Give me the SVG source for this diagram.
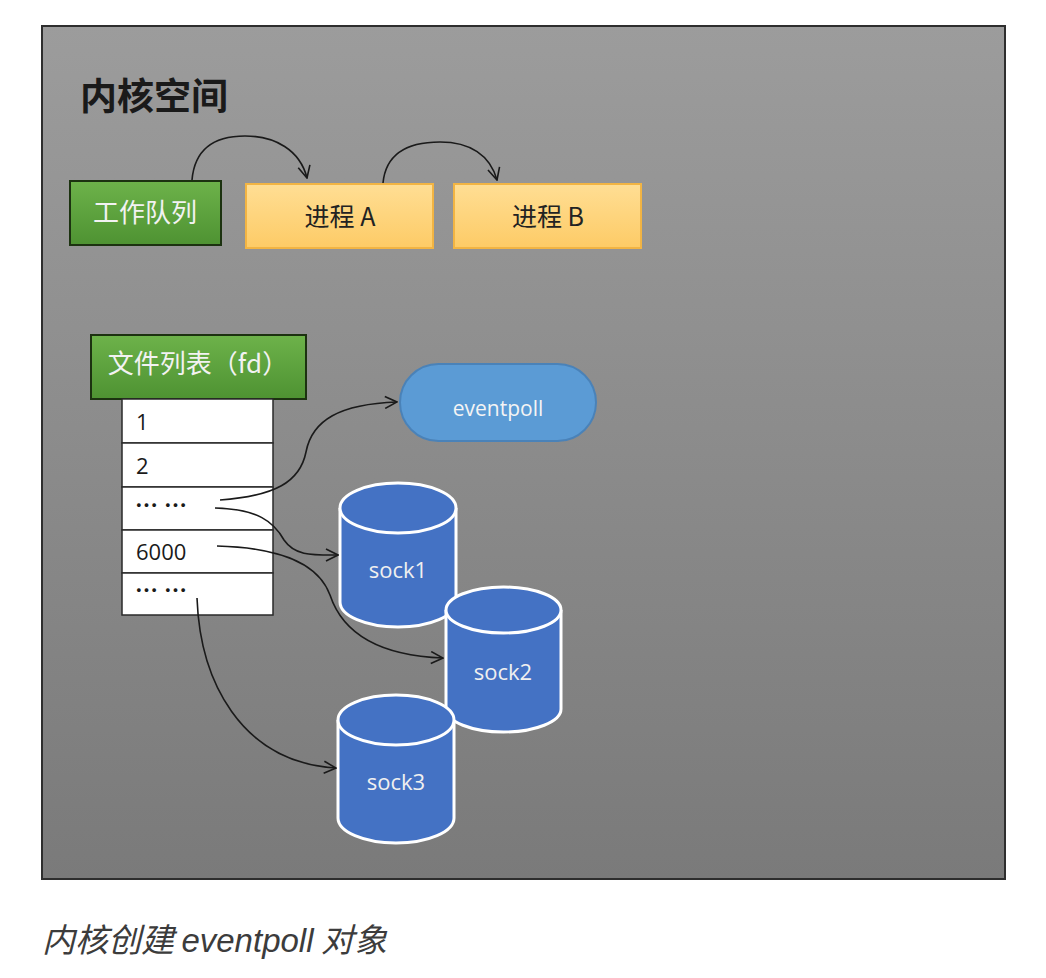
<svg xmlns="http://www.w3.org/2000/svg" width="1046" height="978" viewBox="0 0 1046 978">
<defs>
<linearGradient id="bg" x1="0" y1="0" x2="0" y2="1">
<stop offset="0" stop-color="#9c9c9c"/>
<stop offset="1" stop-color="#7a7a7a"/>
</linearGradient>
<linearGradient id="green" x1="0" y1="0" x2="0" y2="1">
<stop offset="0" stop-color="#6db24a"/>
<stop offset="1" stop-color="#4e9232"/>
</linearGradient>
<linearGradient id="yellow" x1="0" y1="0" x2="0" y2="1">
<stop offset="0" stop-color="#ffde94"/>
<stop offset="1" stop-color="#fdcb66"/>
</linearGradient>
<marker id="arr" viewBox="0 0 14 14" refX="13" refY="7" markerWidth="14" markerHeight="14" markerUnits="userSpaceOnUse" orient="auto">
<path d="M1,1 L13,7 L1,13" fill="none" stroke="#1a1a1a" stroke-width="1.6"/>
</marker>
<style>
.cjk{font-family:"Noto Sans CJK SC","Liberation Sans",sans-serif;}
.lat{font-family:"Open Sans","Liberation Sans","Noto Sans CJK SC",sans-serif;}
.gbox{fill:url(#green);stroke:#1c3210;stroke-width:2;}
.ybox{fill:url(#yellow);stroke:#f2b443;stroke-width:2;}
.gtxt{fill:#f2f2f2;font-size:26px;}
.ytxt{fill:#222;font-size:25px;}
.cell{fill:#fff;stroke:#2a2a2a;stroke-width:1.5;}
.ctxt{fill:#1a1a1a;font-size:22px;}
.dots{fill:#1a1a1a;font-size:23px;font-weight:bold;letter-spacing:6px;}
.cyl{fill:#4472c4;stroke:#fff;stroke-width:3;}
.stxt{fill:#f0f0f0;font-size:22px;text-anchor:middle;}
.conn{fill:none;stroke:#1a1a1a;stroke-width:1.6;marker-end:url(#arr);}
</style>
</defs>
<rect x="0" y="0" width="1046" height="978" fill="#fff"/>
<g id="kernel">
<rect x="42" y="26" width="963" height="853" fill="url(#bg)" stroke="#2e2e2e" stroke-width="2"/>
<text x="80" y="110" class="cjk" font-size="37" font-weight="bold" fill="#1a1a1a">内核空间</text>
</g>
<g id="workqueue">
<rect x="70" y="181" width="151" height="64" class="gbox"/>
<text x="145" y="222" class="cjk gtxt" text-anchor="middle">工作队列</text>
</g>
<g id="procA">
<rect x="246" y="184" width="187" height="64" class="ybox"/>
<text x="340" y="226" class="cjk ytxt" text-anchor="middle">进程 A</text>
</g>
<g id="procB">
<rect x="454" y="184" width="187" height="64" class="ybox"/>
<text x="548" y="226" class="cjk ytxt" text-anchor="middle">进程 B</text>
</g>
<g id="filelist">
<rect x="91" y="335" width="215" height="64" class="gbox"/>
<text x="198" y="373" class="cjk gtxt" text-anchor="middle">文件列表（fd）</text>
</g>
<g id="fdtable">
<rect x="122" y="399" width="151" height="44" class="cell"/>
<rect x="122" y="443" width="151" height="44" class="cell"/>
<rect x="122" y="487" width="151" height="43" class="cell"/>
<rect x="122" y="530" width="151" height="43" class="cell"/>
<rect x="122" y="573" width="151" height="42" class="cell"/>
<text x="136" y="430" class="lat ctxt">1</text>
<text x="136" y="474" class="lat ctxt">2</text>
<text x="135" y="514" class="cjk dots">……</text>
<text x="136" y="560" class="lat ctxt">6000</text>
<text x="135" y="599" class="cjk dots">……</text>
</g>
<g id="eventpoll">
<rect x="400" y="364" width="196" height="77" rx="38.5" ry="38.5" fill="#5b9bd5" stroke="#4a82b8" stroke-width="2"/>
<text x="498" y="416" class="lat" font-size="21" fill="#f4f4f4" text-anchor="middle">eventpoll</text>
</g>
<g id="sock1">
<path d="M340,508 L340,602 A58,25 0 0 0 456,602 L456,508" class="cyl"/>
<ellipse cx="398" cy="508" rx="58" ry="25" class="cyl"/>
<text x="398" y="578" class="lat stxt">sock1</text>
</g>
<g id="sock2">
<path d="M446,610 L446,709 A57.5,23 0 0 0 561,709 L561,610" class="cyl"/>
<ellipse cx="503.5" cy="610" rx="57.5" ry="23" class="cyl"/>
<text x="503" y="680" class="lat stxt">sock2</text>
</g>
<g id="sock3">
<path d="M338,720 L338,818 A58,25 0 0 0 454,818 L454,720" class="cyl"/>
<ellipse cx="396" cy="720" rx="58" ry="25" class="cyl"/>
<text x="396" y="790" class="lat stxt">sock3</text>
</g>
<g id="connectors">
<path class="conn" d="M192,180 C195,145 220,136 245,136 C275,136 300,150 307,178"/>
<path class="conn" d="M383,183 C386,152 410,142 440,142 C470,142 490,155 497,180"/>
<path class="conn" d="M220,500 C275,496 300,482 306,452 C312,420 340,404 397,402"/>
<path class="conn" d="M215,508 C258,509 274,522 284,540 C295,556 312,555 338,555"/>
<path class="conn" d="M217,546 C290,548 320,568 330,595 C345,640 390,656 443,658"/>
<path class="conn" d="M197,598 C200,680 240,762 336,768"/>
</g>
<g id="caption">
<text x="42" y="952" class="cjk" font-size="33" font-style="italic" fill="#3c3c3c">内核创建 <tspan font-family="Liberation Sans, sans-serif">eventpoll</tspan> 对象</text>
</g>
</svg>
